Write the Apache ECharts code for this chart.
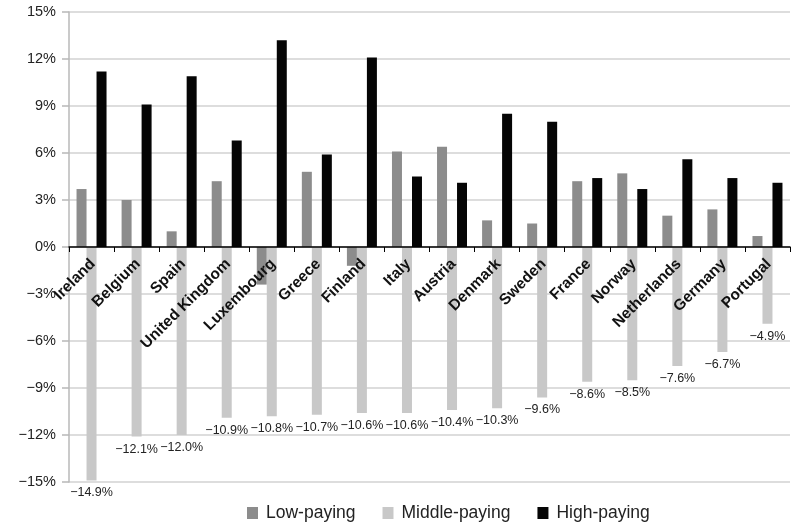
<!DOCTYPE html>
<html>
<head>
<meta charset="utf-8">
<script src="https://cdn.jsdelivr.net/npm/echarts@6/dist/echarts.min.js"></script>
<style>
  html, body { margin: 0; padding: 0; background: #fff; }
  #chart { width: 800px; height: 522px; }
</style>
</head>
<body>
<div id="chart"></div>
<script>
// Employment change by job type, per country (percent)
const countries = ['Ireland', 'Belgium', 'Spain', 'United Kingdom', 'Luxembourg', 'Greece', 'Finland',
  'Italy', 'Austria', 'Denmark', 'Sweden', 'France', 'Norway', 'Netherlands', 'Germany', 'Portugal'];
const lowPaying = [3.7, 3.0, 1.0, 4.2, -2.4, 4.8, -1.2, 6.1, 6.4, 1.7, 1.5, 4.2, 4.7, 2.0, 2.4, 0.7];
const middlePaying = [-14.9, -12.1, -12.0, -10.9, -10.8, -10.7, -10.6, -10.6, -10.4, -10.3, -9.6, -8.6, -8.5, -7.6, -6.7, -4.9];
const highPaying = [11.2, 9.1, 10.9, 6.8, 13.2, 5.9, 12.1, 4.5, 4.1, 8.5, 8.0, 4.4, 3.7, 5.6, 4.4, 4.1];
const seriesNames = ['Low-paying', 'Middle-paying', 'High-paying'];
const yTicks = { min: -15, max: 15, step: 3 };

const FONT = "'Liberation Sans', Arial, Helvetica, sans-serif";
const pct = v => (v < 0 ? '\u2212' + Math.abs(v) : String(v)) + '%';
const pct1 = v => (v < 0 ? '\u2212' + Math.abs(v).toFixed(1) : v.toFixed(1)) + '%';

const GRID = { left: 69, right: 10, top: 12, bottom: 40 };
const plotH = 522 - GRID.top - GRID.bottom;
// move the category axis from the grid bottom up to the zero line
const zeroOffset = -plotH * (0 - yTicks.min) / (yTicks.max - yTicks.min);

const chart = echarts.init(document.getElementById('chart'), null, { renderer: 'canvas' });

chart.setOption({
  animation: false,
  backgroundColor: '#ffffff',
  textStyle: { fontFamily: FONT },
  grid: Object.assign({ containLabel: false, outerBoundsMode: 'none' }, GRID),
  legend: {
    data: seriesNames,
    left: 242,
    top: 499,
    icon: 'rect',
    itemWidth: 11,
    itemHeight: 12,
    itemGap: 27,
    textStyle: { fontFamily: FONT, fontSize: 17.5, color: '#222', padding: [0, 0, 0, 3] }
  },
  xAxis: {
    type: 'category',
    data: countries,
    position: 'bottom',
    offset: zeroOffset,
    boundaryGap: true,
    axisLine: { onZero: false, lineStyle: { color: '#000', width: 1.5 } },
    axisTick: { show: true, interval: 0, length: 5, lineStyle: { color: '#000', width: 1 } },
    axisLabel: {
      interval: 0,
      rotate: 45,
      margin: 16,
      hideOverlap: false,
      fontFamily: FONT,
      fontSize: 15.5,
      fontWeight: 'bold',
      color: '#111',
      padding: [14, -2, 0, 0]
    },
    z: 10
  },
  yAxis: {
    type: 'value',
    min: yTicks.min,
    max: yTicks.max,
    interval: yTicks.step,
    axisLine: { show: true, lineStyle: { color: '#b8b8b8', width: 1.5 } },
    axisTick: { show: true, length: 7, lineStyle: { color: '#b8b8b8', width: 1.5 } },
    axisLabel: {
      formatter: pct,
      fontFamily: FONT,
      fontSize: 14.5,
      color: '#222',
      margin: 13
    },
    splitLine: { show: true, lineStyle: { color: '#d2d2d2', width: 1.5 } }
  },
  series: [
    {
      name: seriesNames[0],
      type: 'bar',
      data: lowPaying,
      barWidth: 10,
      barGap: '0%',
      itemStyle: { color: '#8c8c8c' }
    },
    {
      name: seriesNames[1],
      type: 'bar',
      data: middlePaying,
      barWidth: 10,
      barGap: '0%',
      itemStyle: { color: '#c8c8c8' },
      label: {
        show: true,
        position: 'bottom',
        distance: 6,
        formatter: p => pct1(p.value),
        fontFamily: FONT,
        fontSize: 12.5,
        color: '#222'
      }
    },
    {
      name: seriesNames[2],
      type: 'bar',
      data: highPaying,
      barWidth: 10,
      barGap: '0%',
      itemStyle: { color: '#050505' }
    }
  ]
});
</script>
</body>
</html>
